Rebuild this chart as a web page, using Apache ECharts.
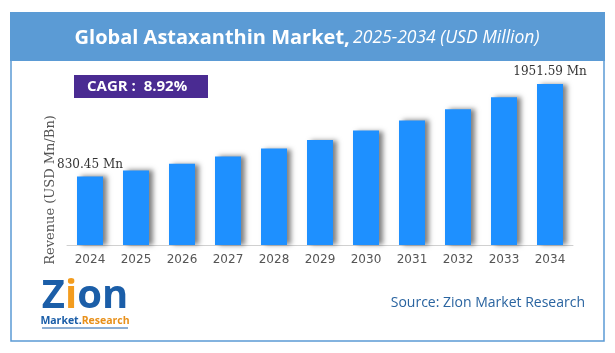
<!DOCTYPE html>
<html>
<head>
<meta charset="utf-8">
<script src="https://cdn.jsdelivr.net/npm/echarts@6/dist/echarts.min.js"></script>
<style>
  html, body { margin: 0; padding: 0; background: #fff; }
  #chart { width: 615px; height: 353px; }
</style>
</head>
<body>
<div id="chart"></div>
<script>
var years = ['2024', '2025', '2026', '2027', '2028', '2029', '2030', '2031', '2032', '2033', '2034'];
var revenue = [830.45, 904.5, 985.2, 1073.1, 1168.8, 1273.1, 1386.7, 1510.4, 1645.1, 1791.8, 1951.59];
var labelled = [0, 10];

var dom = document.getElementById('chart');
var myChart = echarts.init(dom);

var option = {
    backgroundColor: '#fff',
    animation: false,
    grid: {
        left: 67,
        right: 42,
        top: 80,
        bottom: 108
    },
    xAxis: {
        type: 'category',
        data: years,
        axisLine: { lineStyle: { color: '#d0d0d0', width: 1 } },
        axisTick: { show: false },
        axisLabel: {
            color: '#555',
            fontFamily: 'DejaVu Sans',
            fontSize: 12,
            margin: 9
        }
    },
    yAxis: {
        type: 'value',
        min: 0,
        max: 2000,
        show: false
    },
    series: [{
        type: 'bar',
        barWidth: 26,
        itemStyle: {
            color: '#1e90ff',
            shadowColor: 'rgba(0,0,0,0.5)',
            shadowBlur: 5,
            shadowOffsetX: 4,
            shadowOffsetY: 0
        },
        data: revenue.map(function (v, i) {
            return {
                value: v,
                label: {
                    show: labelled.indexOf(i) >= 0,
                    position: 'top',
                    distance: 6,
                    formatter: '{c} Mn',
                    color: '#333',
                    fontFamily: 'DejaVu Serif',
                    fontSize: 12
                }
            };
        })
    }],
    graphic: [
        {
            type: 'rect',
            shape: { x: 11, y: 60, width: 593, height: 281 },
            style: { fill: 'none', stroke: '#5b9bd5', lineWidth: 1.5 },
            silent: true
        },
        {
            type: 'rect',
            shape: { x: 10, y: 12, width: 595, height: 49 },
            style: { fill: '#5b9bd5' },
            silent: true
        },
        {
            type: 'text',
            x: 307,
            y: 38,
            style: {
                text: '{b|Global Astaxanthin Market,} {i|2025-2034 (USD Million)}',
                align: 'center',
                verticalAlign: 'middle',
                rich: {
                    b: { fill: '#fff', fontFamily: 'Open Sans', fontWeight: 'bold', fontSize: 20 },
                    i: { fill: '#fff', fontFamily: 'Open Sans', fontStyle: 'italic', fontSize: 17.5 }
                }
            },
            silent: true
        },
        {
            type: 'rect',
            shape: { x: 74, y: 75, width: 134, height: 23 },
            style: { fill: '#4a2b92' },
            silent: true
        },
        {
            type: 'text',
            x: 87,
            y: 87,
            style: {
                text: 'CAGR :  8.92%',
                fill: '#fff',
                fontFamily: 'Open Sans',
                fontWeight: 'bold',
                fontSize: 15,
                verticalAlign: 'middle'
            },
            silent: true
        },
        {
            type: 'text',
            x: 51,
            y: 190,
            rotation: Math.PI / 2,
            style: {
                text: 'Revenue (USD Mn/Bn)',
                fill: '#555',
                fontFamily: 'DejaVu Serif',
                fontSize: 13,
                align: 'center',
                verticalAlign: 'middle'
            },
            silent: true
        },
        {
            type: 'text',
            x: 585,
            y: 303,
            style: {
                text: 'Source: Zion Market Research',
                fill: '#2a64a0',
                fontFamily: 'Open Sans',
                fontSize: 14,
                align: 'right',
                verticalAlign: 'middle'
            },
            silent: true
        },
        {
            type: 'text',
            x: 85,
            y: 297,
            style: {
                text: '{z|Z}{i|i}{z|on}',
                align: 'center',
                verticalAlign: 'middle',
                rich: {
                    z: { fill: '#1b5ea8', fontFamily: 'Open Sans', fontWeight: 'bold', fontSize: 40 },
                    i: { fill: '#f39c1e', fontFamily: 'Open Sans', fontWeight: 'bold', fontSize: 40 }
                }
            },
            silent: true
        },
        {
            type: 'text',
            x: 85,
            y: 321,
            style: {
                text: '{m|Market.}{r|Research}',
                align: 'center',
                verticalAlign: 'middle',
                rich: {
                    m: { fill: '#1b5ea8', fontFamily: 'Open Sans', fontWeight: 'bold', fontSize: 10.5 },
                    r: { fill: '#e8901a', fontFamily: 'Open Sans', fontWeight: 'bold', fontSize: 10.5 }
                }
            },
            silent: true
        },
        {
            type: 'line',
            shape: { x1: 42, y1: 328, x2: 128, y2: 328 },
            style: { stroke: '#1b5ea8', lineWidth: 1 },
            silent: true
        }
    ]
};

if (option && typeof option === 'object') {
    myChart.setOption(option, true);
}
</script>
</body>
</html>
